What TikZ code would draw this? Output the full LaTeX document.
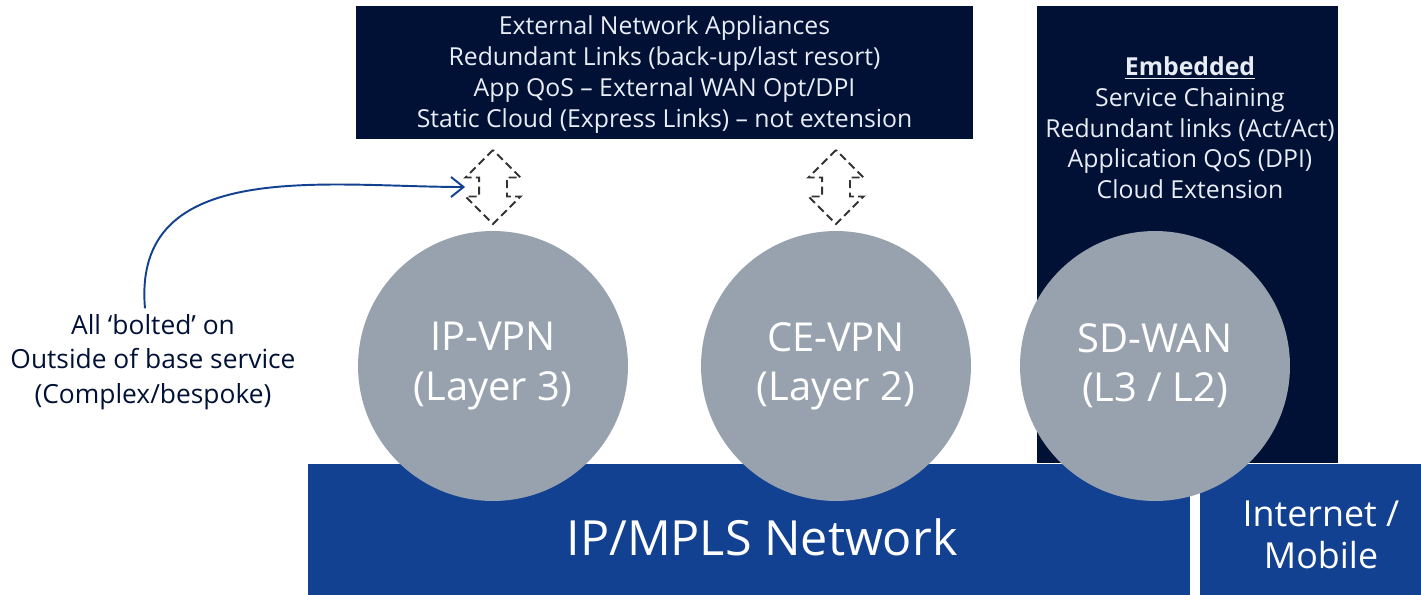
\documentclass[tikz,border=0pt]{standalone}
\usepackage{fontspec}
\setmainfont{Open Sans}
\usepackage{tikz}
\usetikzlibrary{arrows.meta, positioning, shapes.arrows}
\definecolor{navy}{HTML}{001135}
\definecolor{nokiablue}{HTML}{124191}
\definecolor{greyblue}{HTML}{98A2AE}
\definecolor{paletext}{HTML}{E8ECF4}

\begin{document}
\begin{tikzpicture}[x=0.02cm, y=-0.02cm,
    darkbox/.style={fill=navy, inner sep=0pt},
    basebox/.style={fill=nokiablue, inner sep=0pt},
    boxtext/.style={inner sep=0pt, text=paletext, align=center, font=\fontsize{14.1}{17.6}\selectfont},
    basetext/.style={inner sep=0pt, text=white, align=center},
    service/.style={circle, fill=greyblue, minimum size=5.4cm, inner sep=0pt, text=white, align=center, font=\fontsize{22.7}{28}\selectfont},
    duplex/.style={double arrow, draw=black!80, line width=1.1pt, dash pattern=on 4.5pt off 2.5pt, shape border rotate=90, inner sep=0.26cm, minimum height=1.48cm, minimum width=1.06cm, double arrow head extend=0.27cm},
    note/.style={text=navy, align=center, font=\fontsize{15}{19.5}\selectfont}]
    \useasboundingbox (0,0) rectangle (1421,595);

    % dark boxes
    \node (appliances) [darkbox, minimum width=12.34cm, minimum height=2.66cm] at (664.5,72.5) {};
    \node (appltext) [boxtext] at ([yshift=-0.04cm]appliances.center) {External Network Appliances\\Redundant Links (back-up/last resort)\\App QoS -- External WAN Opt/DPI\\Static Cloud (Express Links) -- not extension};
    \node (sdbox) [darkbox, minimum width=6.02cm, minimum height=9.14cm] at (1187.5,234.5) {};
    \node (embedded) [boxtext, anchor=north] at (1190,56) {\textbf{\underline{Embedded}}\\Service Chaining\\Redundant links (Act/Act)\\Application QoS (DPI)\\Cloud Extension};

    % base networks
    \node (mpls) [basebox, minimum width=17.64cm, minimum height=2.62cm] at (749,529.5) {};
    \node (mplstext) [basetext, font=\fontsize{27.6}{33}\selectfont] at (762,537) {IP/MPLS Network};
    \node (internet) [basebox, minimum width=4.42cm, minimum height=2.62cm] at (1310.5,529.5) {};
    \node (internettext) [basetext, font=\fontsize{20.4}{24}\selectfont] at (1321,535) {Internet /\\Mobile};

    \node (ipvpn) [service] at (493,366) {IP-VPN\\(Layer 3)};
    \node (cevpn) [service] at (836,366) {CE-VPN\\(Layer 2)};
    \node (sdwan) [service] at (1155,366) {SD-WAN\\(L3 / L2)};

    \node (iparrow) [duplex] at (493,187) {};
    \node (cearrow) [duplex] at (836,187) {};

    \node (bolted) [note] at (153,362) {All `bolted' on\\Outside of base service\\(Complex/bespoke)};
    \draw[nokiablue, line width=1.1pt, -{Straight Barb[length=2.5mm, width=4mm]}, shorten >=0.26cm]
        ([xshift=-0.16cm]bolted.north) to[out=95, in=180, looseness=1.1] (iparrow.west);
\end{tikzpicture}
\end{document}
